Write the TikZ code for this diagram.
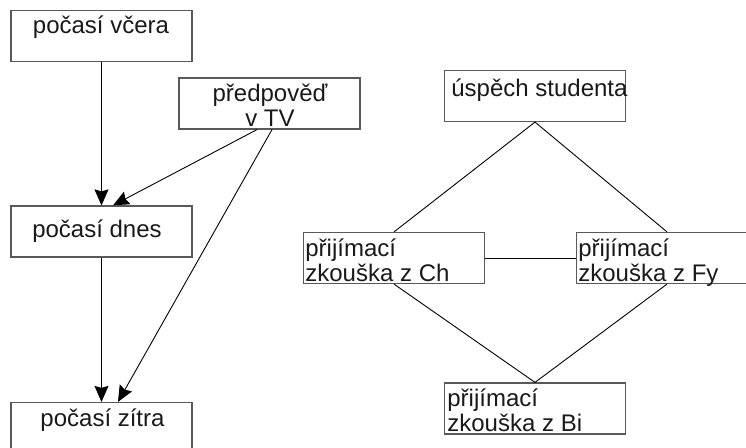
\documentclass[tikz,border=0pt]{standalone}
\usepackage{fontspec}
\setmainfont{Liberation Sans}
\usetikzlibrary{positioning,arrows.meta}
\tikzset{
  box/.style={draw=black!65, line width=0.6pt, minimum width=90.5pt, minimum height=25.5pt, inner sep=0pt},
  lbl/.style={font=\fontsize{12}{12.5}\selectfont, inner sep=0pt, text=black!90},
  arr/.style={-{Stealth[length=8pt,width=7pt,inset=1pt]}, line width=0.45pt},
  link/.style={line width=0.45pt}
}
\begin{document}
\begin{tikzpicture}[x=0.5pt,y=-0.5pt]
        \clip (0,0) rectangle (746,448);
        % weather chain
        \node[box] (vcera) at (101.5,36) {};
        \node[box] (tv) at (269.5,103.5) {};
        \node[box] (dnes) at (101.5,231.5) {};
        \node[box] (zitra) at (101.5,428) {};
        \node[lbl, anchor=base] (tvcera) at (101,34) {počasí včera};
        \node[lbl, anchor=base, align=center] (ttv) at (270,127) {předpověď\\v TV};
        \node[lbl, anchor=base] (tdnes) at (97,238) {počasí dnes};
        \node[lbl, anchor=base] (tzitra) at (102.5,427) {počasí zítra};
        \draw[arr] (vcera) -- (dnes);
        \draw[arr] ([xshift=-6.25pt]tv.south) -- ([xshift=5.75pt]dnes.north);
        \draw[arr] ([xshift=1.25pt]tv.south) -- ([xshift=8.25pt]zitra.north);
        \draw[arr] (dnes) -- (zitra);
        % student
        \node[box] (uspech) at (535,96) {};
        \node[box] (ch) at (394,258) {};
        \node[box] (fy) at (667,258) {};
        \node[box] (bi) at (535,408.5) {};
        \node[lbl, anchor=base west] (tuspech) at (451,97) {úspěch studenta};
        \node[lbl, anchor=base west, align=left] (tch) at (305,282) {přijímací\\zkouška z Ch};
        \node[lbl, anchor=base west, align=left] (tfy) at (578,282) {přijímací\\zkouška z Fy};
        \node[lbl, anchor=base west, align=left] (tbi) at (447,432) {přijímací\\zkouška z Bi};
        \draw[link] (uspech.south) -- (ch.north);
        \draw[link] (uspech.south) -- (fy.north);
        \draw[link] (ch.south) -- (bi.north);
        \draw[link] (fy.south) -- (bi.north);
        \draw[link] (ch) -- (fy);
\end{tikzpicture}
\end{document}
